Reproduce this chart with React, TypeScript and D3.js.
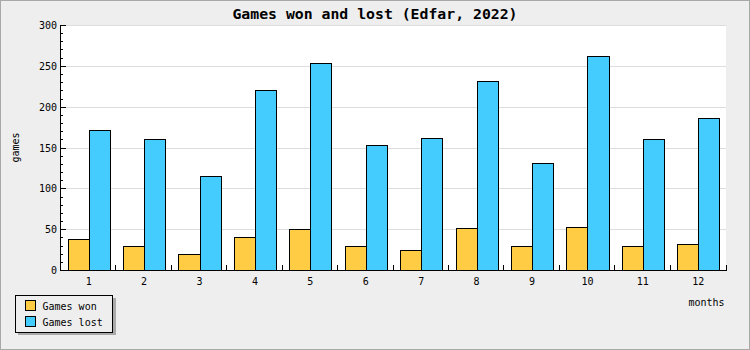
import React from "react";
import * as d3 from "d3";

const months = ["1", "2", "3", "4", "5", "6", "7", "8", "9", "10", "11", "12"];
const gamesWon = [38, 29, 19, 40, 50, 29, 24, 51, 29, 53, 29, 32];
const gamesLost = [171, 160, 115, 220, 253, 153, 162, 232, 131, 262, 161, 186];
const seriesNames = ["Games won", "Games lost"];
const seriesColors = ["#ffcc44", "#44ccff"];
const yMajorTicks = [0, 50, 100, 150, 200, 250, 300];
const yMinorTicks = d3.range(0, 301, 10);

const W = 750;
const H = 350;
const M = { left: 61, right: 726, top: 25, bottom: 270 };
const FONT = "'DejaVu Sans Mono', monospace";

export default function App() {
  const x = d3.scaleBand<string>().domain(months).range([M.left, M.right]).paddingInner(0).paddingOuter(0);
  const y = d3.scaleLinear().domain([0, 300]).range([M.bottom, M.top]);
  const bw = x.bandwidth() * 0.38;
  const pairOffset = (x.bandwidth() - 2 * bw) / 2;
  const series = [gamesWon, gamesLost];
  const px = (v: number) => Math.round(v) + 0.5;

  return (
    <svg
      width={W}
      height={H}
      style={{ position: "absolute", left: 0, top: 0, display: "block" }}
      fontFamily={FONT}
    >
      <rect x={0.5} y={0.5} width={W - 1} height={H - 1} fill="#eeeeee" stroke="#a8a8a8" />
      <rect x={M.left} y={M.top} width={M.right - M.left} height={M.bottom - M.top} fill="#ffffff" />
      {/* grid */}
      {yMajorTicks.slice(1).map((t) => (
        <line key={"g" + t} x1={M.left} x2={M.right} y1={px(y(t))} y2={px(y(t))} stroke="#dddddd" shapeRendering="crispEdges" />
      ))}
      {/* bars */}
      {months.map((m, i) => (
        <g key={m}>
          {series.map((s, j) => {
            const x0 = Math.round((x(m) as number) + pairOffset + j * bw);
            const x1 = Math.round((x(m) as number) + pairOffset + (j + 1) * bw);
            const yt = Math.round(y(s[i]));
            return (
              <rect
                key={j}
                x={x0 + 0.5}
                y={yt + 0.5}
                width={x1 - x0}
                height={M.bottom - yt}
                fill={seriesColors[j]}
                stroke="#000"
                strokeWidth={1}
                shapeRendering="crispEdges"
              />
            );
          })}
        </g>
      ))}
      {/* axes */}
      <line x1={px(M.left) - 1} x2={px(M.left) - 1} y1={M.top} y2={M.bottom + 1} stroke="#000" shapeRendering="crispEdges" />
      <line x1={M.left} x2={M.right + 1} y1={px(M.bottom)} y2={px(M.bottom)} stroke="#000" shapeRendering="crispEdges" />
      {yMinorTicks.map((t) => (
        <line
          key={"yt" + t}
          x1={M.left - 1}
          x2={M.left + (t % 50 === 0 ? 5 : 2)}
          y1={px(y(t))}
          y2={px(y(t))}
          stroke="#000"
          shapeRendering="crispEdges"
        />
      ))}
      {months.map((m, i) => {
        if (i === 0) return null;
        const xx = px(x(m) as number) - 1;
        return <line key={"xt" + m} x1={xx} x2={xx} y1={M.bottom} y2={M.bottom - 5} stroke="#000" shapeRendering="crispEdges" />;
      })}
      <line x1={px(M.right)} x2={px(M.right)} y1={M.bottom} y2={M.bottom - 5} stroke="#000" shapeRendering="crispEdges" />
      {yMajorTicks.map((t) => (
        <text key={"yl" + t} x={57} y={y(t) + 4} textAnchor="end" fontSize={10} fill="#000">
          {t}
        </text>
      ))}
      {months.map((m) => (
        <text
          key={"xl" + m}
          x={(x(m) as number) + x.bandwidth() / 2}
          y={284.5}
          textAnchor="middle"
          fontSize={10}
          fill="#000"
        >
          {m}
        </text>
      ))}
      {/* titles */}
      <text x={375} y={18.5} textAnchor="middle" fontSize={14.8} fontWeight="bold" fill="#000">
        Games won and lost (Edfar, 2022)
      </text>
      <text x={724.5} y={305.5} textAnchor="end" fontSize={10} fill="#000">
        months
      </text>
      <text transform={`translate(19,${(M.top + M.bottom) / 2}) rotate(-90)`} textAnchor="middle" fontSize={10} fill="#000">
        games
      </text>
      {/* legend */}
      <rect x={18} y={298} width={98} height={37} fill="#aaaaaa" />
      <rect x={15.5} y={295.5} width={97} height={37} fill="#eeeeee" stroke="#000" shapeRendering="crispEdges" />
      {seriesNames.map((n, j) => (
        <g key={n}>
          <rect x={25.5} y={300.5 + j * 16} width={10} height={10} fill={seriesColors[j]} stroke="#000" shapeRendering="crispEdges" />
          <text x={42.5} y={309.5 + j * 16} fontSize={10} fill="#000">
            {n}
          </text>
        </g>
      ))}
    </svg>
  );
}
